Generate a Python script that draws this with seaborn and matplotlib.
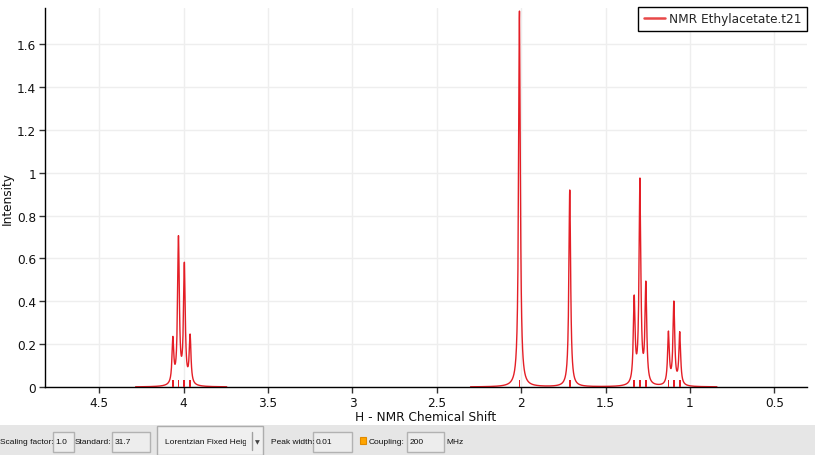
import numpy as np
import pandas as pd
import matplotlib
matplotlib.use("Agg")
import matplotlib.pyplot as plt
import seaborn as sns
from matplotlib import font_manager
from matplotlib.ticker import FixedLocator, FuncFormatter
from matplotlib.patches import Rectangle
from matplotlib.lines import Line2D
from matplotlib.transforms import Bbox, TransformedBbox

# ---------------- data ----------------
peak_shift = [4.064, 4.031, 3.996, 3.962, 2.010, 1.712,
              1.330, 1.296, 1.261, 1.127, 1.095, 1.060]
peak_height = [0.236, 0.706, 0.582, 0.247, 1.754, 0.919,
               0.429, 0.975, 0.494, 0.261, 0.401, 0.258]
segment_start = [4.285, 2.300]
segment_end = [3.745, 0.840]
half_width = 0.0062
stick_height = 0.034

x_ticks = [4.5, 4, 3.5, 3, 2.5, 2, 1.5, 1, 0.5]
y_ticks = [0, 0.2, 0.4, 0.6, 0.8, 1.0, 1.2, 1.4, 1.6]
series_label = "NMR Ethylacetate.t21"
x_label = "H - NMR Chemical Shift"
y_label = "Intensity"

tb_labels = ["Scaling factor:", "Standard:", "Peak width:", "Coupling:", "MHz"]
tb_label_x = [0, 75, 271, 369, 446]
tb_values = ["1.0", "31.7", "0.01", "200"]
tb_box_x0 = [53, 112, 313, 407]
tb_box_x1 = [74, 150, 352, 444]
combo_text = "Lorentzian Fixed Height"

RED = "#e41e26"

# ---------------- style ----------------
sns.set_theme(style="white")
plt.rcParams["font.family"] = ["DejaVu Sans"]
avail = {f.name for f in font_manager.fontManager.ttflist}
if "Liberation Sans Narrow" in avail:
    ui_font, ui_size = "Liberation Sans Narrow", 7.2
else:
    ui_font, ui_size = "Liberation Sans", 6.0

W, H = 815, 456
fig = plt.figure(figsize=(W / 100, H / 100), dpi=100)
fig.patch.set_facecolor("white")

ax = fig.add_axes([45 / W, 1 - 388 / H, (807 - 45) / W, (388 - 9) / H])

# Lorentzian line shape; amplitudes chosen so each apex equals the read height
pos = np.array(peak_shift)
hts = np.array(peak_height)


def shape(d):
    return half_width ** 2 / (d ** 2 + half_width ** 2)


amps = np.linalg.solve(shape(pos[:, None] - pos[None, :]), hts)


def spectrum(xs):
    return (amps[None, :] * shape(xs[:, None] - pos[None, :])).sum(axis=1)


for i, (s, e) in enumerate(zip(segment_start, segment_end)):
    xs = np.linspace(s, e, 6000)
    df = pd.DataFrame({"shift": xs, "intensity": spectrum(xs)})
    sns.lineplot(data=df, x="shift", y="intensity", ax=ax, color=RED,
                 linewidth=1.0, estimator=None, legend=False)

ax.bar(peak_shift, [stick_height] * len(peak_shift), width=0.011,
       color=RED, linewidth=0, zorder=3)

ax.set_xlim(4.822, 0.306)
ax.set_ylim(0, 1.768)
ax.xaxis.set_major_locator(FixedLocator(x_ticks))
ax.yaxis.set_major_locator(FixedLocator(y_ticks))
fmt = FuncFormatter(lambda v, p: f"{v:g}")
ax.xaxis.set_major_formatter(fmt)
ax.yaxis.set_major_formatter(fmt)
ax.grid(True, color="#eeeeee", linewidth=1.0)
ax.set_axisbelow(True)
for side in ["top", "right"]:
    ax.spines[side].set_visible(False)
for side in ["left", "bottom"]:
    ax.spines[side].set_color("black")
    ax.spines[side].set_linewidth(1.0)
ax.tick_params(axis="both", direction="out", length=4, width=1,
               color="#333333", labelsize=8.7, labelcolor="#111111", pad=2.5,
               bottom=True, left=True)
ax.set_xlabel(x_label, fontsize=8.7, labelpad=1, color="#111111")
ax.set_ylabel(y_label, fontsize=8.7, color="#111111")
ax.yaxis.set_label_coords(-0.041, 0.5)

handle = Line2D([], [], color="#e84848", linewidth=1.8)
leg = ax.legend([handle], [series_label], loc="upper right",
                bbox_to_anchor=(1.0, 1.003), borderaxespad=0, frameon=True,
                fancybox=False, framealpha=1, edgecolor="black", fontsize=8.7,
                handlelength=1.75, handletextpad=0.35, borderpad=0.45)
leg.get_frame().set_linewidth(1.0)

# ---------------- toolbar ----------------
tb = fig.add_axes([0, 0, 1, 30 / H])
tb.set_xlim(0, W)
tb.set_ylim(456, 426)
tb.axis("off")
tb.add_patch(Rectangle((0, 426), W, 30, facecolor="#e6e6e6", edgecolor="none"))

TY = 442.5
for lab, x in zip(tb_labels, tb_label_x):
    tb.text(x, TY, lab, ha="left", va="center", fontsize=ui_size,
            family=ui_font, color="#111111")
for val, x0, x1 in zip(tb_values, tb_box_x0, tb_box_x1):
    tb.add_patch(Rectangle((x0, 433), x1 - x0, 20, facecolor="#ededed",
                           edgecolor="#b2b2b2", linewidth=1.0))
    tb.text(x0 + 2.5, TY, val, ha="left", va="center", fontsize=ui_size,
            family=ui_font, color="#111111")

# combo box
tb.add_patch(Rectangle((157, 427), 106, 29, facecolor="#f0f0f0",
                       edgecolor="#adadad", linewidth=1.0))
tb.plot([252, 252], [433, 451], color="#a0a0a0", linewidth=1.0)
t = tb.text(165, TY, combo_text, ha="left", va="center", fontsize=ui_size,
            family=ui_font, color="#111111")
t.set_clip_box(TransformedBbox(Bbox([[157 / W, 0], [246.5 / W, 30 / H]]),
                               fig.transFigure))
t.set_clip_on(True)
tb.text(257.5, TY, "\u25BC", ha="center", va="center", fontsize=4.5,
        color="#444444", family="DejaVu Sans")

# checkbox
tb.add_patch(Rectangle((360, 438), 6, 7, facecolor="#ffa500",
                       edgecolor="#e08a00", linewidth=0.8))

fig.savefig("out.png", dpi=100)
